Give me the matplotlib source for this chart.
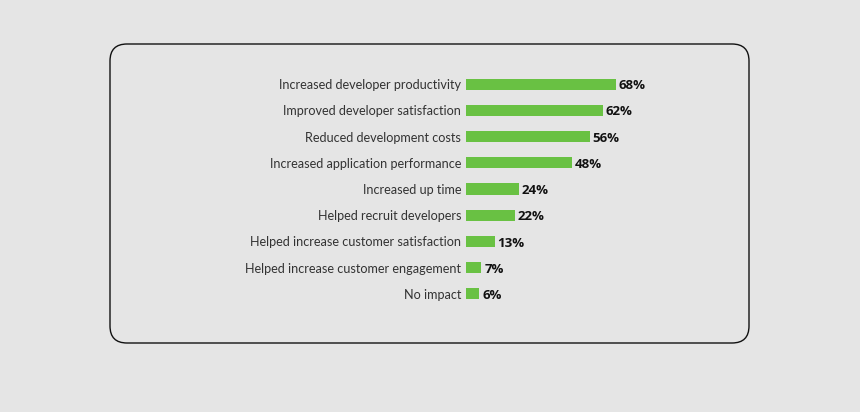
import matplotlib
matplotlib.use("Agg")
import matplotlib.pyplot as plt
from matplotlib.patches import FancyBboxPatch

categories = [
    "Increased developer productivity",
    "Improved developer satisfaction",
    "Reduced development costs",
    "Increased application performance",
    "Increased up time",
    "Helped recruit developers",
    "Helped increase customer satisfaction",
    "Helped increase customer engagement",
    "No impact",
]
values = [68, 62, 56, 48, 24, 22, 13, 7, 6]
value_labels = ["68%", "62%", "56%", "48%", "24%", "22%", "13%", "7%", "6%"]

W, H = 860, 412
BG = "#e5e5e5"
GREEN = "#69c143"

fig = plt.figure(figsize=(W / 100, H / 100), dpi=100, facecolor=BG)

# background axes in pixel coordinates for the rounded frame
bg = fig.add_axes([0, 0, 1, 1])
bg.set_xlim(0, W)
bg.set_ylim(H, 0)
bg.axis("off")
bg.set_facecolor(BG)
r = 17
box = FancyBboxPatch((110 + r, 44 + r), 639 - 2 * r, 299 - 2 * r,
                     boxstyle=f"round,pad={r}", facecolor="none",
                     edgecolor="#111111", linewidth=1.0)
bg.add_patch(box)

# chart axes
px_per_pct = 150 / 68.0
left = 466
width_px = 100 * px_per_pct
top = 84 - 13.1
bottom = 294 + 13.1
ax = fig.add_axes([left / W, 1 - bottom / H, width_px / W, (bottom - top) / H])
ax.set_facecolor("none")
ypos = list(range(len(categories)))
ax.barh(ypos, values, height=0.42, color=GREEN, align="center")
ax.set_xlim(0, 100)
ax.set_ylim(len(categories) - 0.5, -0.5)
ax.set_yticks(ypos)
ax.set_yticklabels(categories, fontsize=9.1, color="#333333", family="Lato")
ax.tick_params(axis="y", length=0, pad=3.5)
ax.set_xticks([])
for s in ax.spines.values():
    s.set_visible(False)
for y, v, lab in zip(ypos, values, value_labels):
    ax.annotate(lab, (v, y), xytext=(2, -1.2), textcoords="offset points",
                va="center", ha="left", fontsize=9.5, fontweight="bold",
                color="#111111", family="Open Sans")

fig.savefig("out.png", dpi=100, facecolor=BG)
